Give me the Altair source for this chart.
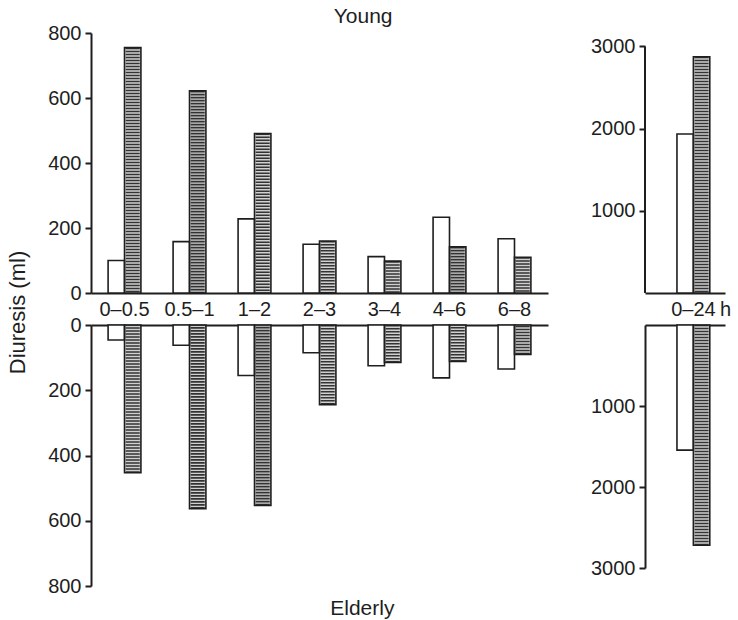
import altair as alt
import pandas as pd

# ---- data ----
intervals = ["0–0.5", "0.5–1", "1–2", "2–3", "3–4", "4–6", "6–8"]
total_label = ["0–24"]
series = ["open", "hatched"]

young_open = [100, 158, 228, 150, 112, 233, 167]
young_hatched = [755, 622, 491, 160, 98, 142, 110]
elderly_open = [46, 62, 155, 85, 125, 162, 135]
elderly_hatched = [453, 563, 553, 244, 115, 112, 90]

young_total_open = [1935]
young_total_hatched = [2875]
elderly_total_open = [1545]
elderly_total_hatched = [2720]

left_ticks = [0, 200, 400, 600, 800]
right_ticks = [1000, 2000, 3000]

FONT = "Liberation Sans"
INK = "#1e1e1e"
LBL = 20


def to_frame(cats, open_vals, hatched_vals):
    rows = []
    for c, o, h in zip(cats, open_vals, hatched_vals):
        rows.append({"period": c, "series": "open", "value": o})
        rows.append({"period": c, "series": "hatched", "value": h})
    return pd.DataFrame(rows)


def y_axis(values, domain=True):
    return alt.Axis(title=None, values=values, format="d", grid=False, domain=domain,
                    domainColor=INK, domainWidth=2, tickColor=INK, tickWidth=2,
                    tickSize=6, labelFont=FONT, labelFontSize=LBL,
                    labelColor=INK, labelPadding=4)


def x_axis(orient, labels, **kw):
    return alt.Axis(title=kw.pop("title", None), orient=orient, labels=labels,
                    ticks=False, domain=True, domainColor=INK, domainWidth=2,
                    labelAngle=0, labelFont=FONT, labelFontSize=LBL,
                    labelColor=INK, labelPadding=6, grid=False, **kw)


def panel(df, cats, xscale, xaxis, yscale, yaxis, width, height, extra=None):
    x = alt.X("period:N", sort=cats, scale=xscale, axis=xaxis)
    xo = alt.XOffset("series:N", sort=series,
                     scale=alt.Scale(domain=series, paddingInner=0, paddingOuter=0))
    y = alt.Y("value:Q", scale=yscale, axis=yaxis)
    base = alt.Chart(df)
    fill = base.mark_bar(strokeWidth=0).encode(
        x=x, xOffset=xo, y=y,
        fill=alt.Fill("series:N", scale=alt.Scale(domain=series, range=["#ffffff", "#d0d0d0"]),
                      legend=None))
    hatch = base.transform_filter(alt.datum.series == "hatched").mark_rule(
        strokeWidth=14, strokeDash=[1.6, 1.4], color="#333333").encode(
        x=x, xOffset=xo, y=y, y2=alt.datum(0))
    outline = base.mark_bar(fillOpacity=0, stroke=INK, strokeWidth=1.6).encode(
        x=x, xOffset=xo, y=y)
    layers = [fill, hatch, outline]
    if extra is not None:
        layers.append(extra)
    return alt.layer(*layers).properties(width=width, height=height)


left_x = alt.Scale(paddingInner=0.495, paddingOuter=0.263)
right_x = alt.Scale(paddingInner=0, paddingOuter=0.712, align=0.68)

# Young, intervals
tl = panel(to_frame(intervals, young_open, young_hatched), intervals, left_x,
           x_axis("bottom", True),
           alt.Scale(domain=[0, 800], nice=False), y_axis(left_ticks), 457, 260)

# Young, 24 h
tr_yscale = alt.Scale(domain=[0, 3164], nice=False)
tr_yaxis = y_axis(right_ticks, domain=False)
axis_line = alt.Chart(pd.DataFrame({"lo": [0], "hi": [3000]})).mark_rule(
    color=INK, strokeWidth=2).encode(
    x=alt.value(0), y=alt.Y("lo:Q", scale=tr_yscale, axis=tr_yaxis), y2="hi:Q")
tr = panel(to_frame(total_label, young_total_open, young_total_hatched), total_label, right_x,
           x_axis("bottom", True, title="h", titleX=80, titleY=6, titleAlign="center",
                  titleBaseline="top", titleFont=FONT, titleFontSize=LBL,
                  titleFontWeight="normal", titleColor=INK),
           tr_yscale, tr_yaxis, 80, 260, extra=axis_line)

# Elderly, intervals
bl = panel(to_frame(intervals, elderly_open, elderly_hatched), intervals, left_x,
           x_axis("top", False),
           alt.Scale(domain=[0, 800], nice=False, reverse=True), y_axis(left_ticks), 457, 261)

# Elderly, 24 h
br = panel(to_frame(total_label, elderly_total_open, elderly_total_hatched), total_label, right_x,
           x_axis("top", False),
           alt.Scale(domain=[0, 3000], nice=False, reverse=True), y_axis(right_ticks), 80, 243)

title_style = dict(font=FONT, fontSize=21, fontWeight="normal", color=INK)

row1 = alt.hconcat(tl, tr, spacing=42).properties(
    title=alt.TitleParams("Young", anchor="middle", frame="bounds", dx=-26, offset=-4, **title_style))
row2 = alt.hconcat(bl, br, spacing=42).properties(
    title=alt.TitleParams("Elderly", orient="bottom", anchor="middle", frame="bounds",
                          dx=-24, offset=2, **title_style))

chart = alt.vconcat(row1, row2, spacing=-4).properties(
    title=alt.TitleParams("Diuresis (ml)", orient="left", anchor="middle", frame="bounds",
                          offset=18, dx=0, font=FONT, fontSize=22, fontWeight="normal", color=INK),
    padding={"left": 6, "top": 6, "right": 2, "bottom": 0},
    background="white",
).configure_view(stroke=None)

chart.save("out.html", embed_options={"renderer": "svg", "actions": False})
